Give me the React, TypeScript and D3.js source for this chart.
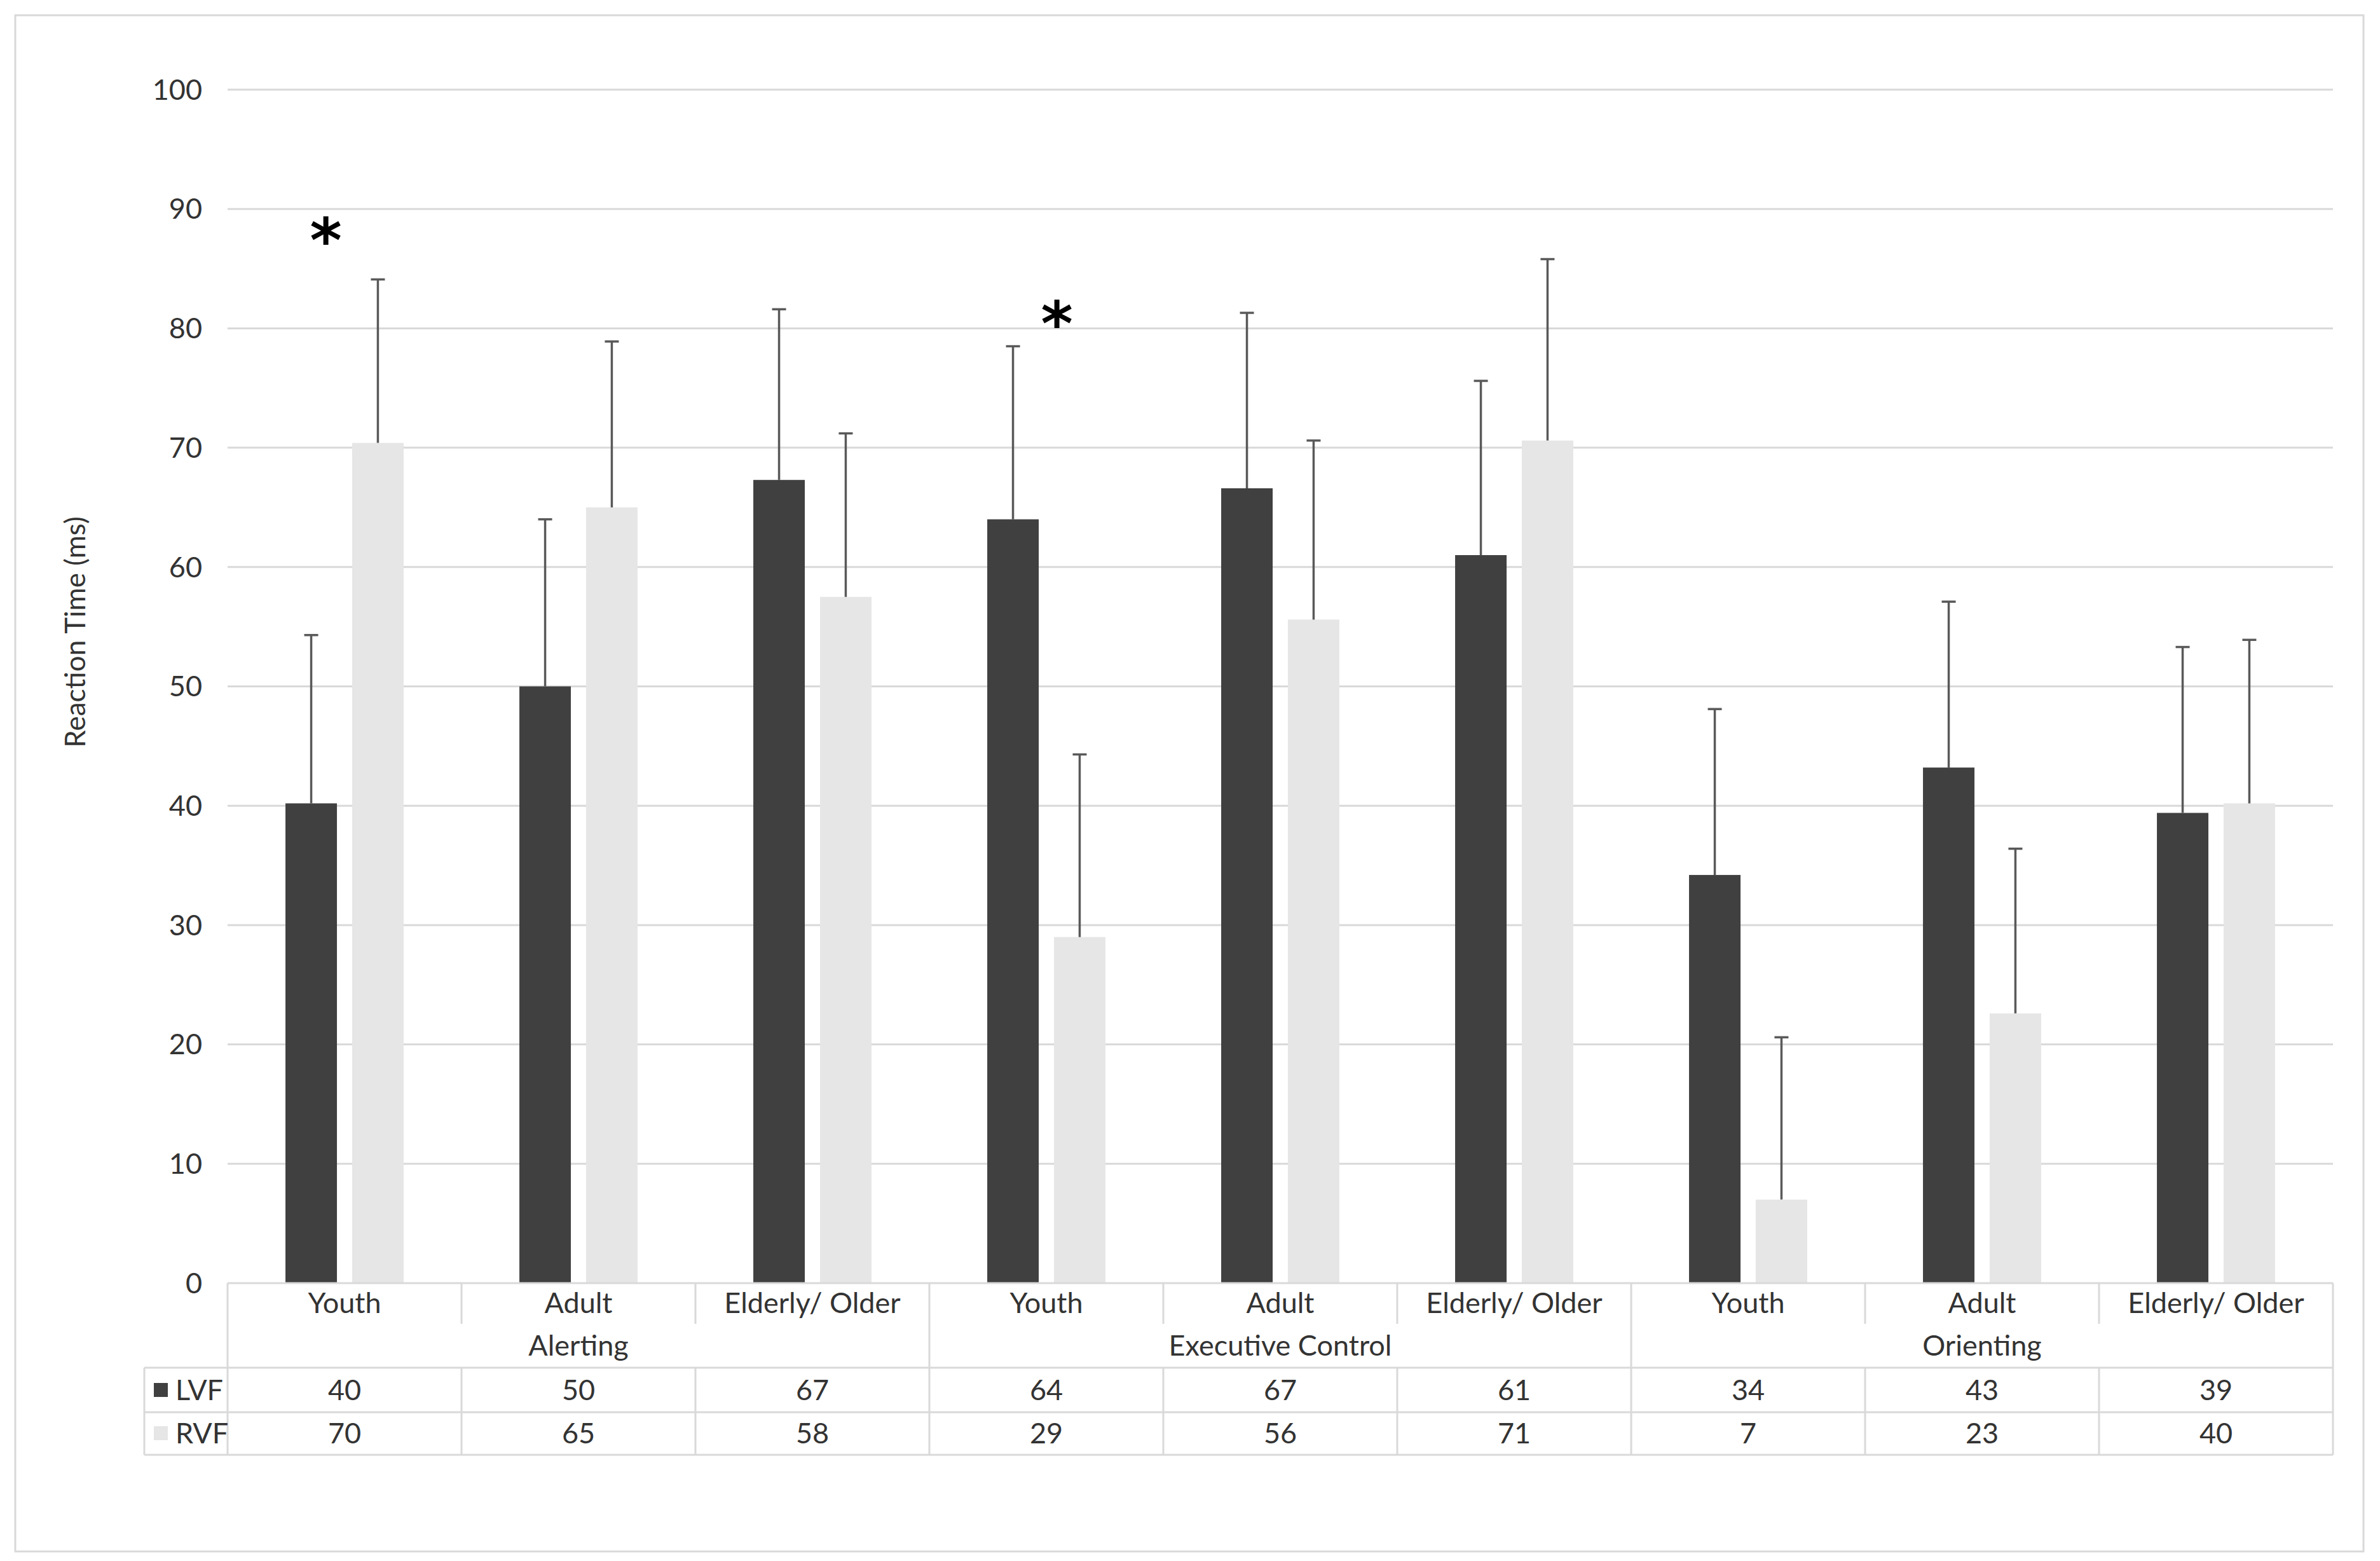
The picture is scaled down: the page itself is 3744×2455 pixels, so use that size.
import React from "react";
import * as d3 from "d3";

const categories = ["Youth", "Adult", "Elderly/ Older", "Youth", "Adult", "Elderly/ Older", "Youth", "Adult", "Elderly/ Older"];
const groups = ["Alerting", "Executive Control", "Orienting"];
const seriesNames = ["LVF", "RVF"];
const lvfValues = [40.2, 50.0, 67.3, 64.0, 66.6, 61.0, 34.2, 43.2, 39.4];
const rvfValues = [70.4, 65.0, 57.5, 29.0, 55.6, 70.6, 7.0, 22.6, 40.2];
const lvfErrors = [14.1, 14.0, 14.3, 14.5, 14.7, 14.6, 13.9, 13.9, 13.9];
const rvfErrors = [13.7, 13.9, 13.7, 15.3, 15.0, 15.2, 13.6, 13.8, 13.7];
const yTicks = [0, 10, 20, 30, 40, 50, 60, 70, 80, 90, 100];
const asterisks = [
  { cat: 0, value: 87.8, offset: -0.08 },
  { cat: 3, value: 80.8, offset: 0.045 },
];
const yTitle = "Reaction Time (ms)";

const W = 3744;
const H = 2455;
const FONT = "Lato, Carlito, Calibri, 'Open Sans', sans-serif";

export default function App() {
  const plotLeft = 358;
  const plotRight = 3670;
  const yTop = 141;
  const yZero = 2018;
  const rowCatBottom = 2082;
  const rowGroupBottom = 2151;
  const rowLvfBottom = 2221;
  const rowRvfBottom = 2288;
  const legendLeft = 227;

  const x = d3.scaleBand<number>().domain(d3.range(categories.length)).range([plotLeft, plotRight]).paddingInner(0).paddingOuter(0);
  const xs = d3.scaleBand<string>().domain(seriesNames).range([0, x.bandwidth()]).paddingInner(0.228).paddingOuter(0.868);
  const y = d3.scaleLinear().domain([0, 100]).range([yZero, yTop]);

  const values = [lvfValues, rvfValues];
  const errors = [lvfErrors, rvfErrors];
  const colors = ["#404040", "#e6e6e6"];
  const gridColor = "#d9d9d9";
  const textColor = "#333333";
  const fs = 45;
  const bw = x.bandwidth();

  const boundaries = d3.range(categories.length + 1).map((i) => plotLeft + i * bw);

  return (
    <svg width={W} height={H} style={{ position: "absolute", left: 0, top: 0, background: "#fff" }} fontFamily={FONT}>
      <rect x={0} y={0} width={W} height={H} fill="#fff" />
      <rect x={24} y={24} width={3694} height={2416} fill="#fff" stroke="#d9d9d9" strokeWidth={3} />

      {/* gridlines */}
      {yTicks.filter((t) => t > 0).map((t) => (
        <line key={t} x1={plotLeft} x2={plotRight} y1={y(t)} y2={y(t)} stroke={gridColor} strokeWidth={3} />
      ))}
      {/* tick labels */}
      {yTicks.map((t) => (
        <text key={t} x={318} y={y(t) + fs * 0.35} textAnchor="end" fontSize={fs} fill={textColor}>{t}</text>
      ))}
      {/* y title */}
      <text transform={`translate(119, 994) rotate(-90)`} textAnchor="middle" fontSize={44} fill={textColor} dy={15}>{yTitle}</text>

      {/* bars */}
      {values.map((vals, s) =>
        vals.map((v, i) => (
          <rect key={`b${s}-${i}`} x={(x(i) as number) + (xs(seriesNames[s]) as number)} y={y(v)} width={xs.bandwidth()} height={yZero - y(v)} fill={colors[s]} />
        ))
      )}
      {/* error bars */}
      {values.map((vals, s) =>
        vals.map((v, i) => {
          const cx = (x(i) as number) + (xs(seriesNames[s]) as number) + xs.bandwidth() / 2;
          const top = y(v + errors[s][i]);
          return (
            <g key={`e${s}-${i}`} stroke="#595959" strokeWidth={3.5}>
              <line x1={cx} x2={cx} y1={y(v)} y2={top} />
              <line x1={cx - 11} x2={cx + 11} y1={top} y2={top} />
            </g>
          );
        })
      )}
      {/* asterisks */}
      {asterisks.map((a, k) => (
        <text key={`a${k}`} x={(x(a.cat) as number) + bw * (0.5 + a.offset)} y={y(a.value) + 42} textAnchor="middle" fontSize={96} fontWeight={700} fill="#000" fontFamily="'DejaVu Sans', sans-serif">*</text>
      ))}

      {/* data table lines */}
      <line x1={plotLeft} x2={plotRight} y1={yZero} y2={yZero} stroke={gridColor} strokeWidth={3} />
      {[rowGroupBottom, rowLvfBottom, rowRvfBottom].map((yy) => (
        <line key={`h${yy}`} x1={legendLeft} x2={plotRight} y1={yy} y2={yy} stroke={gridColor} strokeWidth={3} />
      ))}
      <line x1={legendLeft} x2={legendLeft} y1={rowGroupBottom} y2={rowRvfBottom} stroke={gridColor} strokeWidth={3} />
      {boundaries.map((bx, i) =>
        i % 3 === 0 ? (
          <line key={`v${i}`} x1={bx} x2={bx} y1={yZero} y2={rowRvfBottom} stroke={gridColor} strokeWidth={3} />
        ) : (
          <g key={`v${i}`} stroke={gridColor} strokeWidth={3}>
            <line x1={bx} x2={bx} y1={yZero} y2={rowCatBottom} />
            <line x1={bx} x2={bx} y1={rowGroupBottom} y2={rowRvfBottom} />
          </g>
        )
      )}

      {/* category labels */}
      {categories.map((c, i) => (
        <text key={`c${i}`} x={(x(i) as number) + bw / 2} y={2049 + fs * 0.35} textAnchor="middle" fontSize={fs} fill={textColor}>{c}</text>
      ))}
      {/* group labels */}
      {groups.map((g, k) => (
        <text key={`g${k}`} x={plotLeft + bw * (3 * k + 1.5)} y={2116 + fs * 0.35} textAnchor="middle" fontSize={fs} fill={textColor}>{g}</text>
      ))}
      {/* legend keys + values */}
      {seriesNames.map((name, s) => {
        const cy = s === 0 ? 2186 : 2254;
        return (
          <g key={`r${s}`}>
            <rect x={242} y={cy - 11} width={22} height={22} fill={colors[s]} />
            <text x={276} y={cy + fs * 0.35} fontSize={fs} fill={textColor}>{name}</text>
            {values[s].map((v, i) => (
              <text key={`t${s}-${i}`} x={(x(i) as number) + bw / 2} y={cy + fs * 0.35} textAnchor="middle" fontSize={fs} fill={textColor}>{Math.round(v)}</text>
            ))}
          </g>
        );
      })}
    </svg>
  );
}
